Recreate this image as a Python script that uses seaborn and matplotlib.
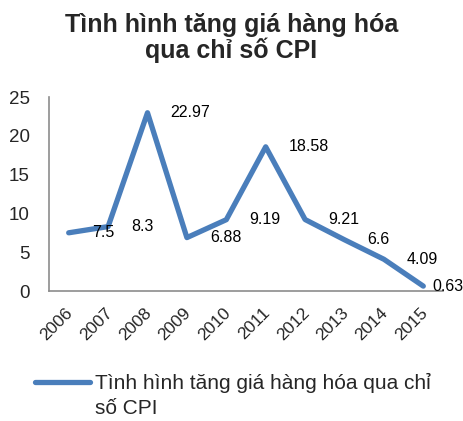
import matplotlib
matplotlib.use("Agg")
import matplotlib.pyplot as plt
import matplotlib.transforms as mtransforms
from matplotlib.lines import Line2D
import seaborn as sns
import pandas as pd
import numpy as np

# ---- data ----
years = ["2006", "2007", "2008", "2009", "2010", "2011", "2012", "2013", "2014", "2015"]
cpi = [7.5, 8.3, 22.97, 6.88, 9.19, 18.58, 9.21, 6.6, 4.09, 0.63]
value_labels = ["7.5", "8.3", "22.97", "6.88", "9.19", "18.58", "9.21", "6.6", "4.09", "0.63"]
title = "Tình hình tăng giá hàng hóa\nqua chỉ số CPI"
legend_line1 = "Tình hình tăng giá hàng hóa qua chỉ"
legend_line2 = "số CPI"
y_ticks = [0, 5, 10, 15, 20, 25]

df = pd.DataFrame({"year": years, "cpi": cpi})

sns.set_style("white")
plt.rcParams["font.family"] = ["Liberation Sans", "DejaVu Sans"]

W, H, DPI = 463, 421, 100
fig = plt.figure(figsize=(W / DPI, H / DPI), dpi=DPI)
ax = fig.add_axes([49 / W, 1 - 291 / H, (443 - 49) / W, (291 - 97) / H])

line_color = "#4A7EBB"
sns.lineplot(data=df, x="year", y="cpi", ax=ax, color=line_color, linewidth=3.8,
             sort=False, legend=False)

ax.set_xlim(-0.5, len(years) - 0.5)
ax.set_ylim(0, 25)
ax.set_yticks(y_ticks)
ax.set_yticklabels([str(t) for t in y_ticks], fontsize=13.5)
ax.set_xticks(range(len(years)))
ax.set_xticklabels(years, fontsize=12.5, rotation=45, ha="right", rotation_mode="default")
ax.set_xticks(np.arange(-0.5, len(years), 1.0), minor=True)
ax.tick_params(axis="x", which="major", length=0, pad=10)
ax.tick_params(axis="x", which="minor", length=5, width=1.2, color="#8C8C8C", direction="out")
ax.tick_params(axis="y", which="major", length=5, width=1.2, color="#8C8C8C", direction="out", pad=9)
ax.set_xlabel("")
ax.set_ylabel("")
for s in ["top", "right"]:
    ax.spines[s].set_visible(False)
for s in ["left", "bottom"]:
    ax.spines[s].set_color("#8C8C8C")
    ax.spines[s].set_linewidth(1.2)

# shift x tick labels slightly right
offset = mtransforms.ScaledTranslation(7 / DPI, 0, fig.dpi_scale_trans)
for lab in ax.get_xticklabels():
    lab.set_transform(lab.get_transform() + offset)

# data labels (pixel offsets to the right of each point)
label_dx = [23] * (len(years) - 1) + [9]
for i, (v, t) in enumerate(zip(cpi, value_labels)):
    ax.annotate(t, xy=(i, v), xytext=(label_dx[i] * 72 / DPI, 0), textcoords="offset points",
                ha="left", va="center", fontsize=11.5, color="#000000", annotation_clip=False)

fig.text(0.5, 1 - 38 / H, title, ha="center", va="center", fontsize=18,
         fontweight="bold", linespacing=1.05)

# legend
handle = Line2D([0], [0], color=line_color, linewidth=3.8, solid_capstyle="round")
fs_leg = 15
em = fs_leg * DPI / 72
fig.legend([handle], [legend_line1], loc="center left", bbox_to_anchor=(35 / W, 1 - 383 / H),
           frameon=False, fontsize=fs_leg, handlelength=55 / em, handletextpad=5 / em,
           borderpad=0, borderaxespad=0)
fig.text(95 / W, 1 - 408 / H, legend_line2, ha="left", va="center", fontsize=fs_leg)

fig.savefig("out.png", dpi=DPI)
